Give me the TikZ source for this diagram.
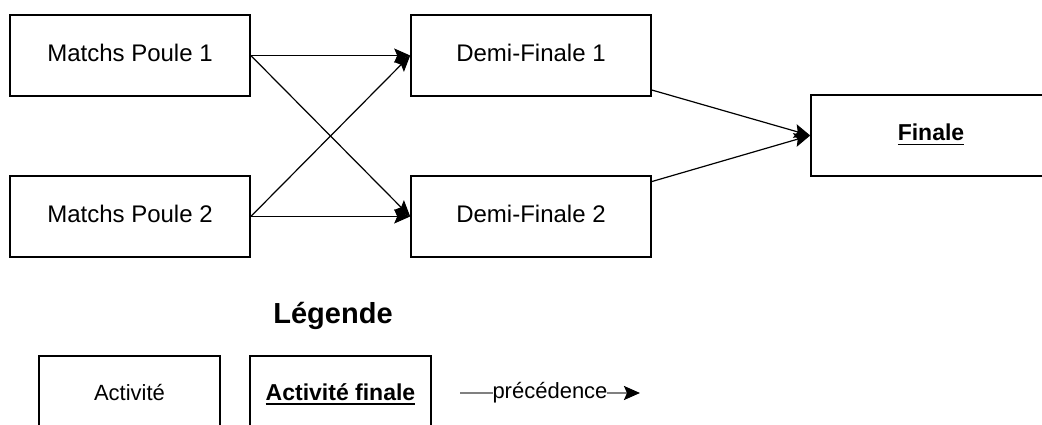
\documentclass[tikz,border=0pt]{standalone}
\usepackage{fontspec}
\setmainfont{Liberation Sans}
\usetikzlibrary{arrows.meta}
\newcommand\myul[1]{\leavevmode\vtop{\hbox{#1}\kern2.5pt\hrule height 1.6pt}}
\begin{document}
\begin{tikzpicture}[x=1pt,y=-1pt,
  actbox/.style={draw=black, line width=1.6pt, minimum width=240pt, minimum height=81pt,
     inner sep=0pt, text depth=6pt, font=\fontsize{24}{28}\selectfont},
  legbox/.style={draw=black, line width=1.6pt, minimum width=181pt, minimum height=81pt,
     inner sep=0pt, text depth=9pt},
  tipstyle/.style={-{Stealth[length=16pt,width=14pt,inset=3pt,color=black]}},
  conn/.style={line width=1.2pt, tipstyle}
]
\path[use as bounding box, clip] (0,0) rectangle (1042,425);
\fill[white] (0,0) rectangle (1042,425);

\node[actbox] (mp1) at (130,55.5) {Matchs Poule 1};
\node[actbox] (mp2) at (130,216.5) {Matchs Poule 2};
\node[actbox] (df1) at (531,55.5) {Demi-Finale 1};
\node[actbox] (df2) at (531,216.5) {Demi-Finale 2};
\node[actbox, font=\fontsize{23}{27}\selectfont\bfseries] (fin) at (931,135.5) {\myul{Finale}};

\draw[conn] (mp1.east) -- (df1.west);
\draw[conn] (mp1.east) -- (df2.west);
\draw[conn] (mp2.east) -- (df1.west);
\draw[conn] (mp2.east) -- (df2.west);
\draw[conn] (df1) -- (fin.west);
\draw[conn] (df2) -- (fin.west);

\node[font=\fontsize{29}{33}\selectfont\bfseries] (leg) at (333,316) {Légende};

\node[legbox, font=\fontsize{22}{26}\selectfont] (la) at (129.5,396.5) {Activité};
\node[legbox, font=\fontsize{23}{27}\selectfont\bfseries] (lf) at (340.5,396.5) {\myul{Activité finale}};

\coordinate (p1) at (460,393);
\coordinate (p2) at (640,393);
\draw[line width=2.2pt, draw=gray, tipstyle] (p1) --
  node[pos=0.5, fill=white, text=black, inner sep=0pt, font=\fontsize{22}{26}\selectfont] (lp) {précédence} (p2);
\end{tikzpicture}
\end{document}
